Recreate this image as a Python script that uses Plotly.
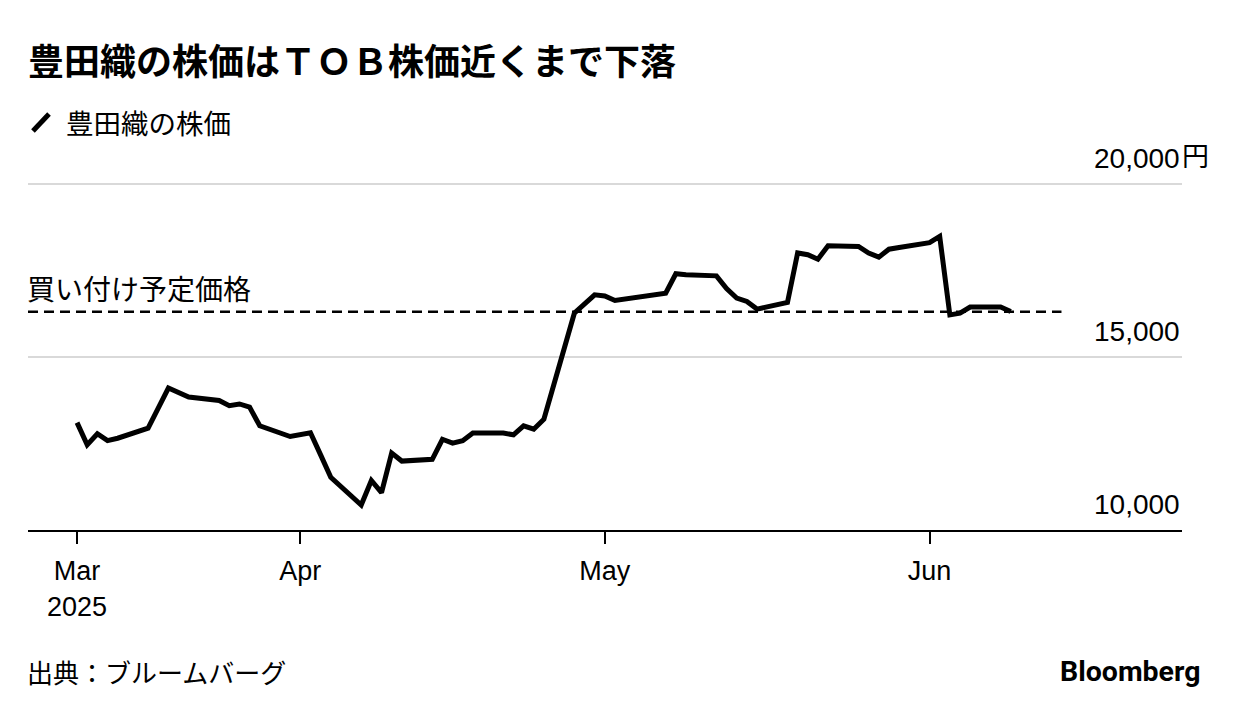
import plotly.graph_objects as go

# ---- data ----
dates = [
    "2025-03-10", "2025-03-11", "2025-03-12", "2025-03-13", "2025-03-14",
    "2025-03-17", "2025-03-18", "2025-03-19", "2025-03-21",
    "2025-03-24", "2025-03-25", "2025-03-26", "2025-03-27", "2025-03-28",
    "2025-03-31", "2025-04-01", "2025-04-02", "2025-04-03", "2025-04-04",
    "2025-04-07", "2025-04-08", "2025-04-09", "2025-04-10", "2025-04-11",
    "2025-04-14", "2025-04-15", "2025-04-16", "2025-04-17", "2025-04-18",
    "2025-04-21", "2025-04-22", "2025-04-23", "2025-04-24", "2025-04-25",
    "2025-04-28", "2025-04-30", "2025-05-01", "2025-05-02",
    "2025-05-07", "2025-05-08", "2025-05-09",
    "2025-05-12", "2025-05-13", "2025-05-14", "2025-05-15", "2025-05-16",
    "2025-05-19", "2025-05-20", "2025-05-21", "2025-05-22", "2025-05-23",
    "2025-05-26", "2025-05-27", "2025-05-28", "2025-05-29", "2025-05-30",
    "2025-06-02", "2025-06-03", "2025-06-04", "2025-06-05", "2025-06-06",
    "2025-06-09", "2025-06-10",
]
prices = [
    13100, 12460, 12780, 12580, 12650,
    12940, 13520, 14100, 13840,
    13740, 13590, 13640, 13550, 13010,
    12700, 12750, 12810, 12170, 11520,
    10720, 11430, 11080, 12220, 11990,
    12040, 12620, 12510, 12580, 12800,
    12800, 12750, 13010, 12910, 13200,
    16260, 16790, 16760, 16630,
    16840, 17400, 17370,
    17340, 16970, 16700, 16600, 16380,
    16570, 18000, 17950, 17820, 18210,
    18190, 18000, 17880, 18110, 18160,
    18300, 18480, 16210, 16260, 16440,
    16440, 16310,
]

tob_price = 16300
tob_label = "買い付け予定価格"
tob_line_end = "2025-06-15"

x_tick_vals = ["2025-03-10", "2025-04-01", "2025-05-01", "2025-06-02"]
x_tick_text = ["Mar<br>2025", "Apr", "May", "Jun"]
x_range = ["2025-03-05 04:00:00", "2025-06-26 21:00:00"]

y_tick_vals = [10000, 15000, 20000]
y_tick_text = ["10,000", "15,000", "20,000"]
y_unit = "円"

title_text = "豊田織の株価はＴＯＢ株価近くまで下落"
series_name = "豊田織の株価"
source_text = "出典：ブルームバーグ"
brand_text = "Bloomberg"

LATIN = "Liberation Sans, Noto Sans CJK JP, sans-serif"
CJK = "Noto Sans CJK JP, sans-serif"

W, H = 1232, 708  # page body has an 8px margin

fig = go.Figure()
fig.add_trace(go.Scatter(
    x=dates, y=prices, mode="lines", name=series_name,
    line=dict(color="#000000", width=5), showlegend=False,
    hoverinfo="skip",
))

# TOB reference dashed line
fig.add_shape(type="line", xref="x", yref="y",
              x0=x_range[0], x1=tob_line_end, y0=tob_price, y1=tob_price,
              line=dict(color="#000000", width=2.5, dash="10px,6px"), layer="below")

annotations = []
annotations.append(dict(text=tob_label, xref="paper", yref="y", x=0, y=tob_price,
                        xanchor="left", yanchor="bottom", yshift=2, xshift=-3, showarrow=False,
                        font=dict(family=CJK, size=28, color="#000000")))

# y tick labels (above gridlines, right aligned)
for v, t in zip(y_tick_vals, y_tick_text):
    annotations.append(dict(text=t, xref="paper", yref="y", x=1, y=v,
                            xanchor="right", yanchor="bottom", yshift=8, showarrow=False,
                            font=dict(family=LATIN, size=28, color="#000000")))
annotations.append(dict(text=y_unit, xref="paper", yref="y", x=1, y=y_tick_vals[-1],
                        xanchor="left", yanchor="bottom", yshift=8, xshift=-2, showarrow=False,
                        font=dict(family=CJK, size=27, color="#000000")))

# legend
annotations.append(dict(text=series_name, xref="paper", yref="paper", x=0.031, y=1.1724,
                        xanchor="left", yanchor="middle", showarrow=False,
                        font=dict(family=CJK, size=27.5, color="#000000")))
# source & brand
annotations.append(dict(text=source_text, xref="paper", yref="paper", x=0, y=-0.408,
                        xanchor="left", yanchor="middle", xshift=-3, showarrow=False,
                        font=dict(family=CJK, size=26, color="#000000")))
annotations.append(dict(text="<b>" + brand_text + "</b>", xref="paper", yref="paper",
                        x=1.0175, y=-0.408, xanchor="right", yanchor="middle", showarrow=False,
                        font=dict(family="Roboto, Liberation Sans, sans-serif", size=28.5, color="#000000")))

fig.add_shape(type="line", xref="paper", yref="paper",
              x0=0.0043, y0=1.1466, x1=0.0182, y1=1.1954,
              line=dict(color="#000000", width=5))

fig.update_layout(
    width=W, height=H,
    margin=dict(l=20, r=58, t=174, b=186),
    paper_bgcolor="#ffffff", plot_bgcolor="#ffffff",
    title=dict(text="<b>" + title_text + "</b>", x=20 / W, xanchor="left",
               y=1 - 54 / H, yanchor="middle",
               font=dict(family=CJK, size=36, color="#000000")),
    annotations=annotations,
    xaxis=dict(type="date", range=x_range, tickmode="array",
               tickvals=x_tick_vals, ticktext=x_tick_text,
               showgrid=False, zeroline=False,
               showline=True, linecolor="#000000", linewidth=2,
               ticks="outside", ticklen=12, tickwidth=2, tickcolor="#000000",
               ticklabelstandoff=4,
               tickfont=dict(family=LATIN, size=27, color="#000000")),
    yaxis=dict(range=[10000, 20050], tickmode="array", tickvals=y_tick_vals,
               showticklabels=False, showgrid=True, gridcolor="#d9d9d9", gridwidth=2,
               zeroline=False, showline=False),
)

fig.write_html("out.html")
